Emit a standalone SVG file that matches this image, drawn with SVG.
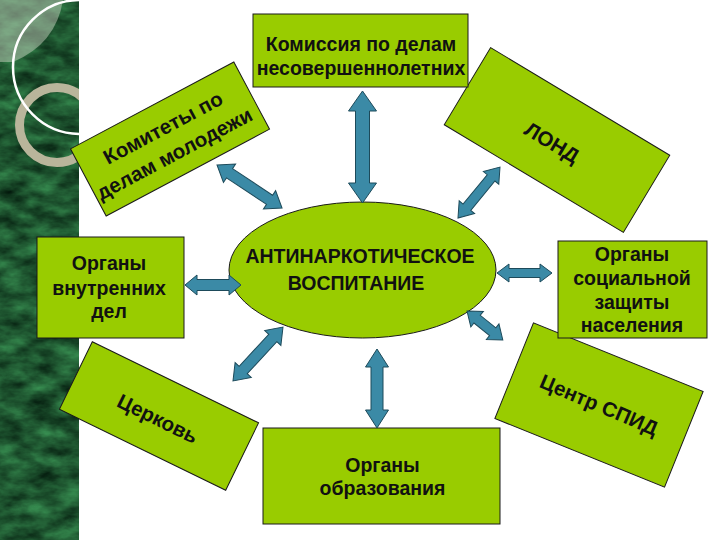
<svg xmlns="http://www.w3.org/2000/svg" width="720" height="540" viewBox="0 0 720 540">
<defs>
<style>
.box{fill:#99cc00;stroke:#1a1a1a;stroke-width:1}
.t{font-family:"Liberation Sans",Arial,sans-serif;font-weight:bold;font-size:19.5px;fill:#111;text-anchor:middle}
.r{font-size:20.5px}
.arr{fill:#3b8aa6;stroke:#1d4a5a;stroke-width:1;stroke-linejoin:miter}
</style>
<filter id="marble" x="0" y="0" width="1" height="1" filterUnits="objectBoundingBox" color-interpolation-filters="sRGB">
<feTurbulence type="fractalNoise" baseFrequency="0.035 0.07" numOctaves="4" seed="7"/>
<feColorMatrix type="matrix" values="0.26 0 0 0 -0.01  0.58 0 0 0 0.05  0.34 0 0 0 0.02  0 0 0 0 1"/>
</filter>
<clipPath id="strip"><rect x="0" y="0" width="79" height="540"/></clipPath>
</defs>
<rect width="720" height="540" fill="#ffffff"/>
<g id="strip-decor">
<rect x="0" y="0" width="79" height="540" fill="#1f5c36"/>
<rect x="0" y="0" width="79" height="540" filter="url(#marble)"/>
<g clip-path="url(#strip)">
<path d="M0,0 H63 Q56,44 13,62 H0 Z" fill="#c8d2c0" fill-opacity="0.5"/>
<circle cx="57" cy="125" r="37.5" fill="none" stroke="#b9b59b" stroke-width="9"/>
</g>
<circle cx="80" cy="67" r="67" fill="none" stroke="#ffffff" stroke-width="2.5" clip-path="url(#strip)"/>
</g>
<g id="node-komitety">
<rect class="box" x="-92.5" y="-38" width="185" height="76" transform="translate(170,139) rotate(-28)"/>
<g transform="translate(170,139) rotate(-28)">
<text class="t r" x="-1" y="-6">Комитеты по</text>
<text class="t r" x="-3" y="22">делам молодежи</text>
</g>
</g>
<g id="node-lond">
<rect class="box" x="-104.5" y="-45" width="209" height="90" transform="translate(557,140) rotate(31)"/>
<text class="t r" x="-3" y="12" transform="translate(557,140) rotate(31)">ЛОНД</text>
</g>
<g id="node-tserkov">
<rect class="box" x="-92.5" y="-37.5" width="185" height="75" transform="translate(159,416) rotate(26)"/>
<text class="t r" x="0" y="10" transform="translate(159,416) rotate(26)">Церковь</text>
</g>
<g id="node-spid">
<rect class="box" x="-91.5" y="-51.5" width="183" height="103" transform="translate(599,405) rotate(22)"/>
<text class="t r" x="0" y="7" transform="translate(599,405) rotate(23)">Центр СПИД</text>
</g>
<g id="node-kdn">
<rect class="box" x="253" y="14" width="215" height="73"/>
<text class="t" x="361" y="50.5">Комиссия по делам</text>
<text class="t" x="361" y="75">несовершеннолетних</text>
</g>
<g id="node-ovd">
<rect class="box" x="37" y="237" width="147" height="101"/>
<text class="t" x="109" y="270">Органы</text>
<text class="t" x="109" y="295">внутренних</text>
<text class="t" x="109" y="318">дел</text>
</g>
<g id="node-soc">
<rect class="box" x="558" y="241" width="149" height="97"/>
<text class="t" x="632" y="261">Органы</text>
<text class="t" x="632" y="285">социальной</text>
<text class="t" x="632" y="309">защиты</text>
<text class="t" x="632" y="332">населения</text>
</g>
<g id="node-obr">
<rect class="box" x="263" y="428" width="237" height="96"/>
<text class="t" x="382.5" y="472">Органы</text>
<text class="t" x="382.5" y="495">образования</text>
</g>
<g id="node-center">
<ellipse class="box" cx="362.5" cy="270" rx="133.5" ry="68"/>
<text class="t" x="360" y="263">АНТИНАРКОТИЧЕСКОЕ</text>
<text class="t" x="356" y="290">ВОСПИТАНИЕ</text>
</g>
<g id="connectors">
<polygon class="arr" transform="translate(362.5,91) rotate(90)" points="0,0 20,-14 20,-7 92,-7 92,-14 112,0 92,14 92,7 20,7 20,14"/>
<polygon class="arr" transform="translate(377,349) rotate(90)" points="0,0 18,-11.5 18,-6 61,-6 61,-11.5 79,0 61,11.5 61,6 18,6 18,11.5"/>
<polygon class="arr" transform="translate(185,285)" points="0,0 12,-10 12,-5.5 44,-5.5 44,-10 56,0 44,10 44,5.5 12,5.5 12,10"/>
<polygon class="arr" transform="translate(497,273)" points="0,0 12,-9 12,-4.5 43,-4.5 43,-9 55,0 43,9 43,4.5 12,4.5 12,9"/>
<polygon class="arr" transform="translate(217,165) rotate(33.5)" points="0,0 15,-11 15,-5.5 63,-5.5 63,-11 78,0 63,11 63,5.5 15,5.5 15,11"/>
<polygon class="arr" transform="translate(458,218) rotate(-50.5)" points="0,0 14,-10 14,-5 52,-5 52,-10 66,0 52,10 52,5 14,5 14,10"/>
<polygon class="arr" transform="translate(283,327) rotate(132.8)" points="0,0 15,-11 15,-5.5 58.6,-5.5 58.6,-11 73.6,0 58.6,11 58.6,5.5 15,5.5 15,11"/>
<polygon class="arr" transform="translate(467,311) rotate(38.9)" points="0,0 13,-10 13,-5 33,-5 33,-10 46,0 33,10 33,5 13,5 13,10"/>
</g>
</svg>
